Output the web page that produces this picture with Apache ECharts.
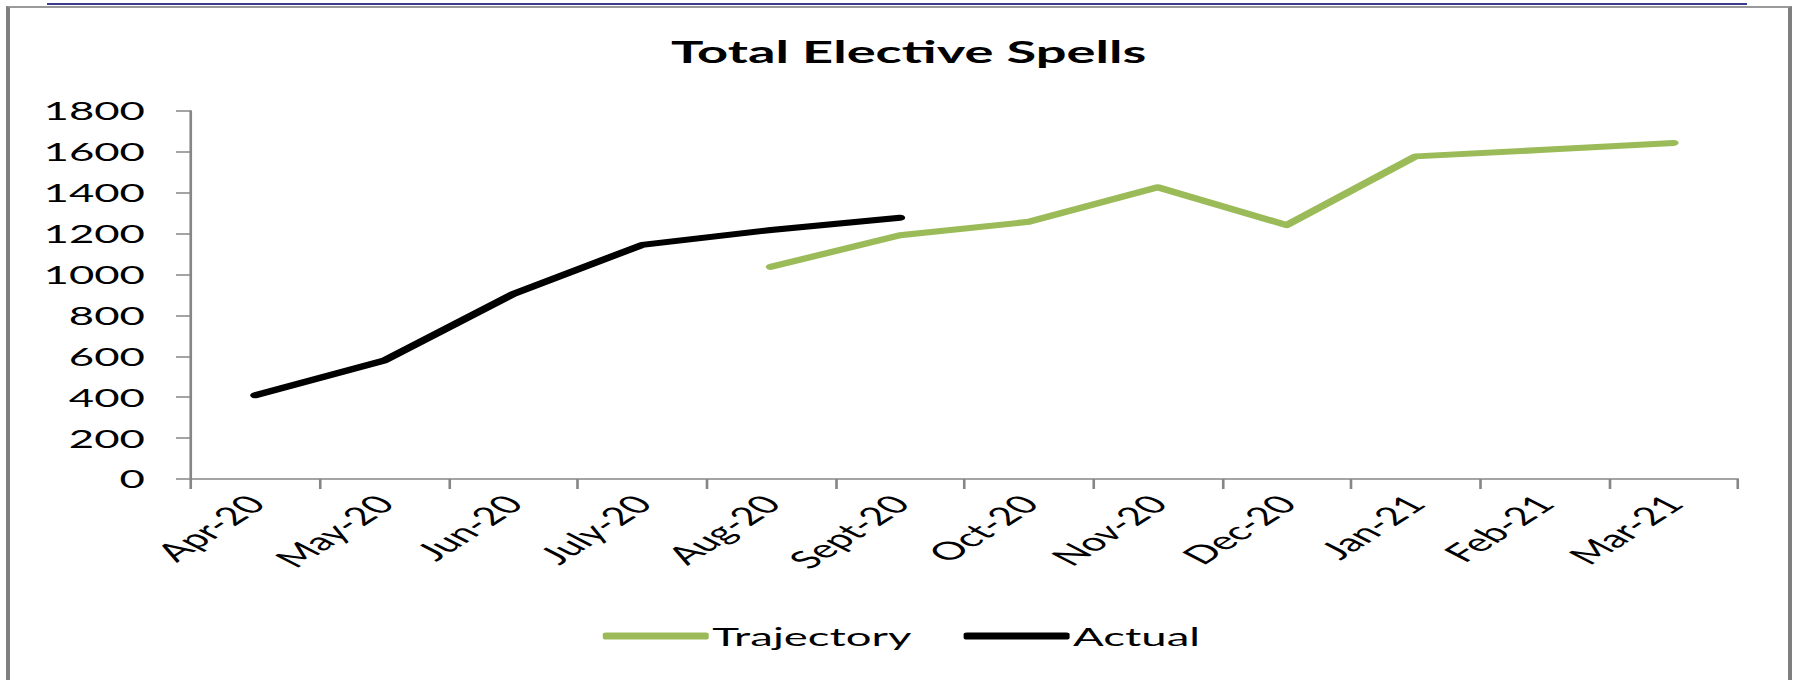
<!DOCTYPE html>
<html>
<head>
<meta charset="utf-8">
<script src="https://cdn.jsdelivr.net/npm/echarts@6/dist/echarts.min.js"></script>
<style>
  html, body { margin: 0; padding: 0; background: #fff; }
  #page { position: relative; width: 1793px; height: 680px; overflow: hidden; background: #fff; }
  #topRule { position: absolute; left: 47px; top: 3px; width: 1700px; height: 2px; background: #3b3b8f; }
  #frame { position: absolute; left: 6px; top: 6px; width: 1778px; height: 700px;
           border-left: 4px solid #7f7f7f; border-top: 2px solid #9a9a9a; border-right: 4px solid #7f7f7f; }
  #chart { position: absolute; left: 0; top: 0; height: 680px; transform-origin: 0 0; }
</style>
</head>
<body>
<div id="page">
  <div id="topRule"></div>
  <div id="frame"></div>
  <div id="chart"></div>
</div>
<script>
// Monthly elective spells, April 2020 to March 2021
const months = ['Apr-20', 'May-20', 'Jun-20', 'July-20', 'Aug-20', 'Sept-20',
                'Oct-20', 'Nov-20', 'Dec-20', 'Jan-21', 'Feb-21', 'Mar-21'];
const trajectory = [null, null, null, null, 1038, 1192, 1258, 1427, 1242, 1578, 1610, 1644];
const actual = [410, 580, 905, 1145, 1218, 1278, null, null, null, null, null, null];
const yTicks = { min: 0, max: 1800, step: 200 };

// The chart is laid out narrow and widened horizontally, giving the wide lettering.
const STRETCH = 1.75;
const FULL_W = 1793;
const el = document.getElementById('chart');
el.style.width = (FULL_W / STRETCH) + 'px';
el.style.transform = 'scaleX(' + STRETCH + ')';

const px = v => v / STRETCH;          // horizontal page pixels -> chart pixels
const font = 'Lato, "Open Sans", sans-serif';
const axisGrey = '#868686';

const chart = echarts.init(el, null, { renderer: 'svg' });
chart.setOption({
  animation: false,
  title: {
    text: 'Total Elective Spells',
    left: px(900),
    top: 30,
    textAlign: 'center',
    textStyle: { fontFamily: font, fontWeight: 'bold', fontSize: 31, color: '#000' }
  },
  legend: {
    left: px(594),
    top: 618,
    icon: 'roundRect',
    itemWidth: px(106),
    itemHeight: 7,
    itemGap: px(52),
    textStyle: { fontFamily: font, fontSize: 26, color: '#000', padding: [0, 0, 0, -3] },
    data: ['Trajectory', 'Actual']
  },
  grid: {
    left: px(191),
    right: px(FULL_W - 1737),
    top: 111,
    bottom: 680 - 479,
    containLabel: false
  },
  xAxis: {
    type: 'category',
    data: months,
    boundaryGap: true,
    axisLine: { lineStyle: { color: axisGrey, width: 1.5 } },
    axisTick: { show: true, length: 10, lineStyle: { color: axisGrey, width: 1.5 } },
    axisLabel: {
      interval: 0,
      rotate: 48,
      margin: 20,
      fontFamily: font,
      fontSize: 25,
      color: '#000'
    }
  },
  yAxis: {
    type: 'value',
    min: yTicks.min,
    max: yTicks.max,
    interval: yTicks.step,
    axisLine: { show: true, lineStyle: { color: axisGrey, width: 1.5 } },
    axisTick: { show: true, length: px(15), lineStyle: { color: axisGrey, width: 1.5 } },
    splitLine: { show: false },
    axisLabel: {
      margin: px(46),
      fontFamily: font,
      fontSize: 25,
      color: '#000',
      formatter: v => String(v)
    }
  },
  series: [
    {
      name: 'Trajectory',
      type: 'line',
      data: trajectory,
      symbol: 'none',
      color: '#9bbb59',
      lineStyle: { width: 6, color: '#9bbb59', cap: 'round', join: 'round' }
    },
    {
      name: 'Actual',
      type: 'line',
      data: actual,
      symbol: 'none',
      color: '#000000',
      lineStyle: { width: 6, color: '#000000', cap: 'round', join: 'round' }
    }
  ]
});
</script>
</body>
</html>
